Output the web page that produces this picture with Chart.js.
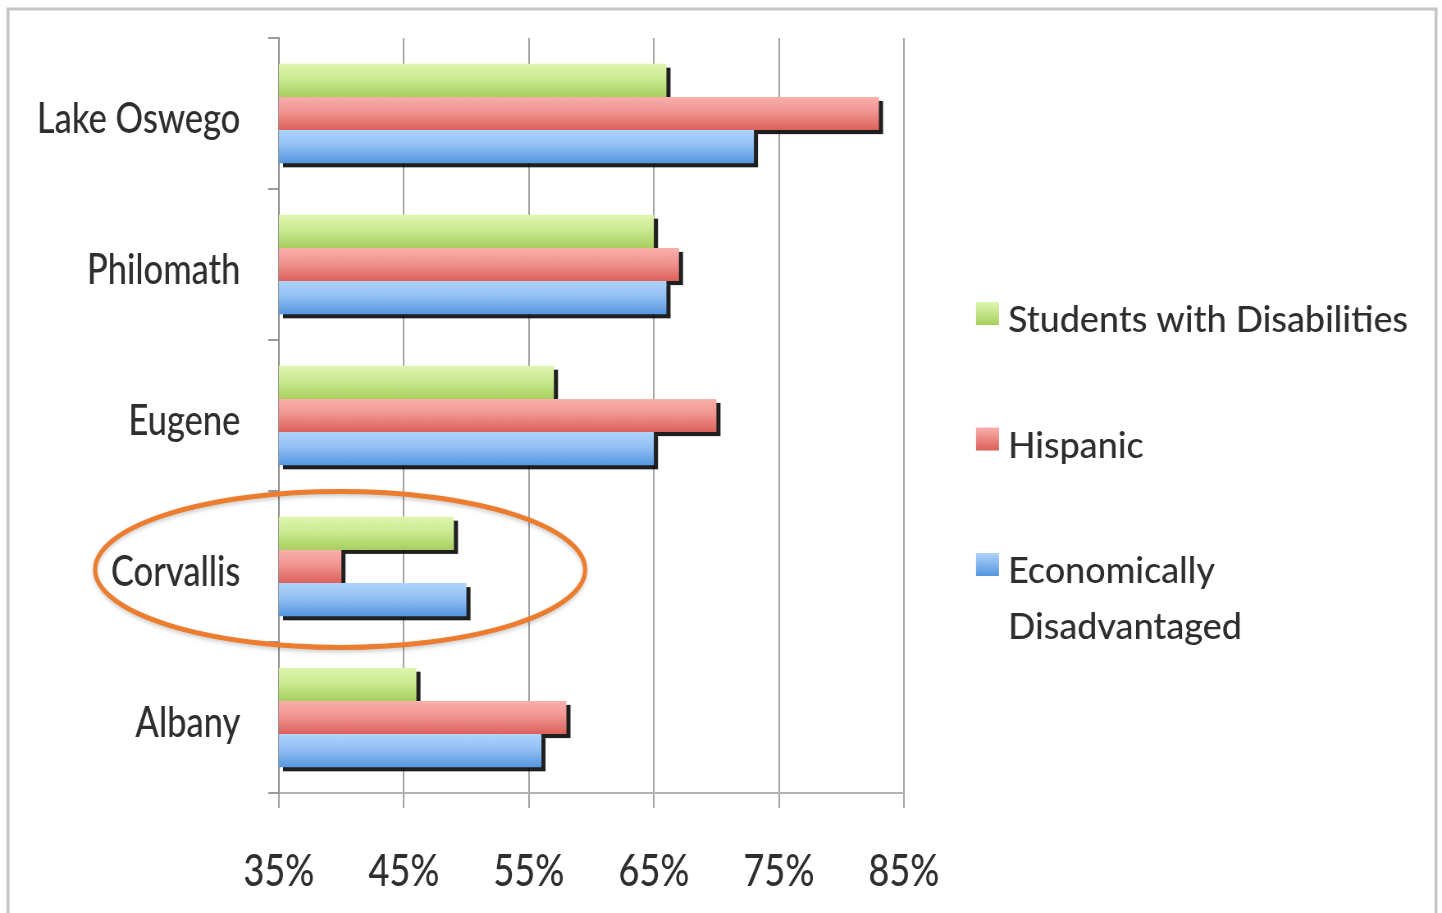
<!DOCTYPE html>
<html>
<head>
<meta charset="utf-8">
<script src="https://cdn.jsdelivr.net/npm/chart.js@4.4.1/dist/chart.umd.min.js"></script>
<style>
  html, body { margin: 0; padding: 0; background: #fff; overflow: hidden; }
  #grafico { display: block; }
</style>
</head>
<body>
<!-- canvas is drawn wider and squeezed back to 1442px, like the narrow text of the original -->
<canvas id="grafico" width="1758" height="913" style="width:1442px;height:913px"></canvas>
<script>
// Dados do gráfico
const categories = ['Lake Oswego', 'Philomath', 'Eugene', 'Corvallis', 'Albany'];
const seriesNames = ['Students with Disabilities', 'Hispanic', 'Economically Disadvantaged'];
const disabilitiesValues = [66, 65, 57, 49, 46];
const hispanicValues = [83, 67, 70, 40, 58];
const economicValues = [73, 66, 65, 50, 56];
const xTicks = [35, 45, 55, 65, 75, 85];

// Destaque (elipse laranja) em volta de Corvallis, em unidades do eixo x
const highlightCategory = 'Corvallis';
const highlightRange = [20.3, 59.5];

// Cores em degradê de cada série (topo, meio, base)
const greenStops = ['#dff6b0', '#cbea92', '#a6cf5f'];
const redStops = ['#faafac', '#f09590', '#dc605a'];
const blueStops = ['#afd3fc', '#92c0f4', '#5596df'];

const SX = 1442 / 1758;      // compressão horizontal do canvas
const CAT_PCT = 0.66;
const textColor = '#2e2e2e';

Chart.defaults.font.family = 'Lato';
Chart.defaults.font.weight = 500;
Chart.defaults.color = textColor;

// Degradê vertical para cada barra, calculado pela escala y
function barFill(stops) {
    return function (c) {
        const chart = c.chart;
        const ys = chart.scales.y;
        if (!ys || !chart.chartArea || c.dataIndex === undefined) return stops[1];
        const catH = (ys.bottom - ys.top) / categories.length;
        const groupH = catH * CAT_PCT;
        const barH = groupH / chart.data.datasets.length;
        const top = ys.getPixelForValue(c.dataIndex) - groupH / 2 + c.datasetIndex * barH;
        const g = chart.ctx.createLinearGradient(0, top, 0, top + barH);
        g.addColorStop(0, stops[0]);
        g.addColorStop(0.45, stops[1]);
        g.addColorStop(1, stops[2]);
        return g;
    };
}

// Fundo branco e moldura cinza
const framePlugin = {
    id: 'frame',
    beforeDraw(chart) {
        const ctx = chart.ctx;
        ctx.save();
        ctx.fillStyle = '#fff';
        ctx.fillRect(0, 0, chart.width, chart.height);
        ctx.scale(1 / SX, 1);
        ctx.strokeStyle = '#c6c6c6';
        ctx.lineWidth = 3;
        ctx.strokeRect(8, 9, 1428, 930);
        ctx.restore();
    }
};

// Sombra preta das barras (desenhada antes de todas as barras)
const shadowPlugin = {
    id: 'barShadow',
    beforeDatasetsDraw(chart) {
        const ctx = chart.ctx;
        const left = chart.chartArea.left;
        ctx.save();
        ctx.fillStyle = 'rgba(0,0,0,0.88)';
        chart.data.datasets.forEach((ds, i) => {
            const meta = chart.getDatasetMeta(i);
            meta.data.forEach(bar => {
                const p = bar.getProps(['x', 'y', 'base', 'height'], true);
                const start = Math.max(p.base, left);
                ctx.fillRect(start + 5, p.y - p.height / 2 + 4, p.x - start, p.height);
            });
        });
        ctx.restore();
    }
};

// Elipse de destaque e legenda à direita
const extrasPlugin = {
    id: 'extras',
    afterDraw(chart) {
        const ctx = chart.ctx;
        const xs = chart.scales.x;
        const ys = chart.scales.y;

        // elipse
        const idx = categories.indexOf(highlightCategory);
        const catH = (ys.bottom - ys.top) / categories.length;
        const x0 = xs.getPixelForValue(highlightRange[0]);
        const x1 = xs.getPixelForValue(highlightRange[1]);
        ctx.save();
        ctx.strokeStyle = '#ec7d2e';
        ctx.lineWidth = 5;
        ctx.shadowColor = 'rgba(0,0,0,0.22)';
        ctx.shadowBlur = 4;
        ctx.shadowOffsetY = 2;
        ctx.beginPath();
        ctx.ellipse((x0 + x1) / 2, ys.getPixelForValue(idx) + 3, (x1 - x0) / 2, catH * 0.516, 0, 0, Math.PI * 2);
        ctx.stroke();
        ctx.restore();

        // legenda (coordenadas já na tela final)
        ctx.save();
        ctx.scale(1 / SX, 1);
        ctx.font = '500 37px Lato';
        ctx.fillStyle = textColor;
        ctx.textBaseline = 'alphabetic';
        const allStops = [greenStops, redStops, blueStops];
        chart.data.datasets.forEach((ds, i) => {
            const top = 302 + i * 125.5;
            const g = ctx.createLinearGradient(0, top, 0, top + 23);
            g.addColorStop(0, allStops[i][0]);
            g.addColorStop(1, allStops[i][2]);
            ctx.fillStyle = g;
            ctx.fillRect(976, top, 23, 23);
            ctx.fillStyle = textColor;
            // quebra de linha quando o texto é largo demais
            const words = ds.label.split(' ');
            const lines = [];
            let line = '';
            words.forEach(w => {
                const test = line ? line + ' ' + w : w;
                if (ctx.measureText(test).width > 430 && line) {
                    lines.push(line);
                    line = w;
                } else {
                    line = test;
                }
            });
            lines.push(line);
            lines.forEach((l, k) => {
                ctx.save();
                ctx.translate(1008, top + 30 + k * 56);
                ctx.scale(0.97, 1);
                ctx.fillText(l, 0, 0);
                ctx.restore();
            });
        });
        ctx.restore();
    }
};

const chart = new Chart(document.getElementById('grafico'), {
    type: 'bar',
    data: {
        labels: categories,
        datasets: [
            { label: seriesNames[0], data: disabilitiesValues, backgroundColor: barFill(greenStops) },
            { label: seriesNames[1], data: hispanicValues, backgroundColor: barFill(redStops) },
            { label: seriesNames[2], data: economicValues, backgroundColor: barFill(blueStops) }
        ]
    },
    options: {
        indexAxis: 'y',
        responsive: false,
        devicePixelRatio: 1,
        animation: false,
        categoryPercentage: CAT_PCT,
        barPercentage: 1.0,
        layout: { padding: { left: 0, right: 656, top: 38, bottom: 0 } },
        plugins: {
            legend: { display: false },
            tooltip: { enabled: false }
        },
        scales: {
            x: {
                type: 'linear',
                position: 'bottom',
                min: 35,
                max: 85,
                afterBuildTicks: scale => { scale.ticks = xTicks.map(v => ({ value: v })); },
                afterFit: scale => { scale.height = 120; },
                grid: { color: '#a4a4a4', lineWidth: 2, tickLength: 15 },
                border: { color: '#b3b3b3', width: 2 },
                ticks: {
                    font: { size: 44 },
                    color: textColor,
                    padding: 37,
                    callback: v => v + '%'
                }
            },
            y: {
                type: 'category',
                offset: true,
                afterFit: scale => {
                    scale.width = 340;
                    scale.paddingTop = 0;
                    scale.paddingBottom = 0;
                },
                grid: { offset: true, drawOnChartArea: false, tickLength: 13, color: '#9c9c9c', lineWidth: 2 },
                border: { color: '#939393', width: 2 },
                ticks: {
                    font: { size: 42 },
                    color: textColor,
                    padding: 34,
                    labelOffset: 6
                }
            }
        }
    },
    plugins: [framePlugin, shadowPlugin, extrasPlugin]
});
</script>
</body>
</html>
